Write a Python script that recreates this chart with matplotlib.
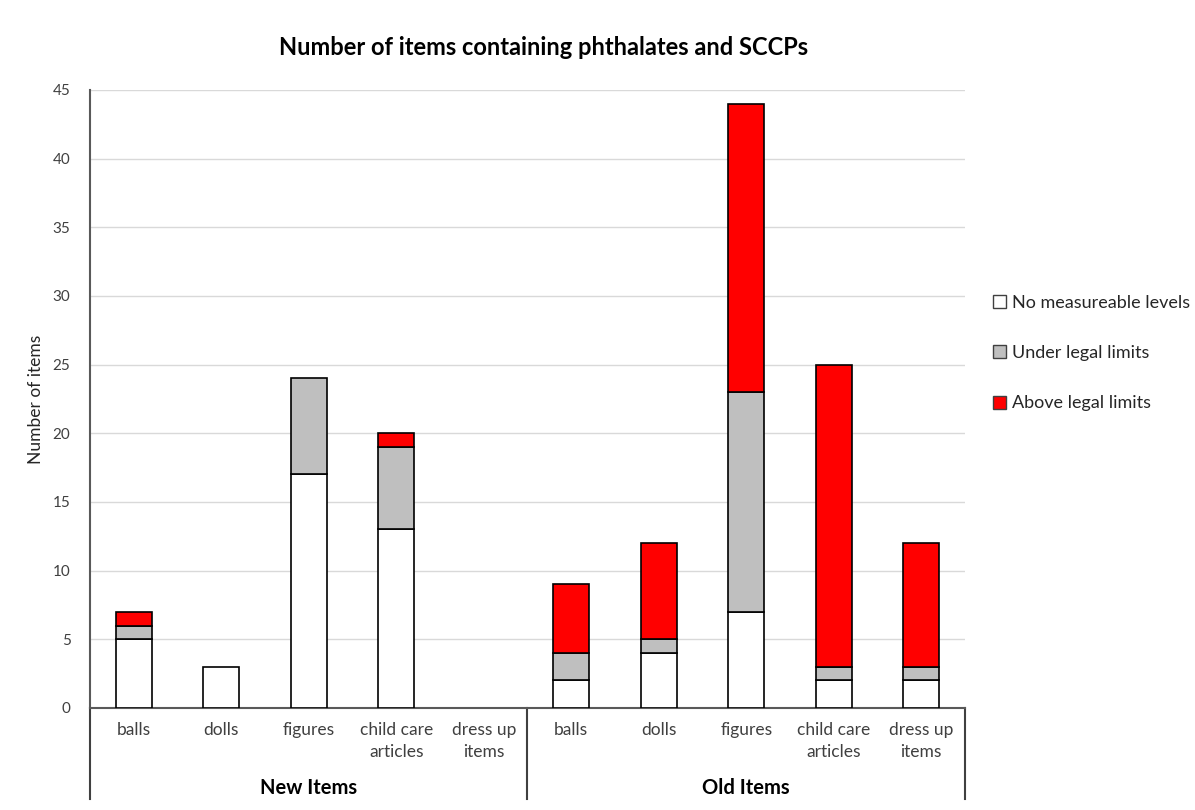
import numpy as np
import matplotlib
matplotlib.use("Agg")
import matplotlib.pyplot as plt
from matplotlib.patches import Patch

plt.rcParams['font.family'] = ['Lato', 'DejaVu Sans']

# item counts per category, New Items followed by Old Items
categories = ['balls', 'dolls', 'figures', 'child care\narticles', 'dress up\nitems']
groups = ['New Items', 'Old Items']
no_levels = [5, 3, 17, 13, 0, 2, 4, 7, 2, 2]
under_limits = [1, 0, 7, 6, 0, 2, 1, 16, 1, 1]
above_limits = [1, 0, 0, 1, 0, 5, 7, 21, 22, 9]

series_names = ['No measureable levels', 'Under legal limits', 'Above legal limits']
series_colors = ['white', '#bfbfbf', '#ff0000']

fig = plt.figure(figsize=(11.95, 8.10), dpi=100)
ax = fig.add_axes([0.0753, 0.126, 0.7322, 0.763])

x = np.arange(len(no_levels))
bottom = np.zeros(len(x))
for vals, color in zip([no_levels, under_limits, above_limits], series_colors):
    vals = np.array(vals, dtype=float)
    mask = vals > 0
    ax.bar(x[mask], vals[mask], bottom=bottom[mask], width=0.41,
           color=color, edgecolor='black', linewidth=1.2, zorder=3)
    bottom += vals

ax.set_xlim(-0.5, len(x) - 0.5)
ax.set_ylim(0, 45)
ax.set_yticks(np.arange(0, 46, 5))
ax.yaxis.grid(True, color='#d9d9d9', linewidth=1)
ax.set_axisbelow(True)
for side in ['top', 'right']:
    ax.spines[side].set_visible(False)
ax.spines['left'].set_color('#595959')
ax.spines['left'].set_linewidth(1.5)
ax.spines['bottom'].set_color('#595959')
ax.spines['bottom'].set_linewidth(1.5)
ax.tick_params(axis='y', length=0, labelsize=11, colors='#404040', pad=14)
ax.tick_params(axis='x', length=0, labelsize=12.5, colors='#404040', pad=10)
ax.set_xticks(x)
ax.set_xticklabels(categories * len(groups), linespacing=1.5, va='top')
ax.set_ylabel('Number of items', fontsize=12.5, color='#262626', labelpad=6)

# group separators and group labels below the axis
trans = ax.get_xaxis_transform()
n = len(categories)
for b in [-0.5, n - 0.5, 2 * n - 0.5]:
    ax.plot([b, b], [0, -0.148], transform=trans, color='#404040',
            linewidth=1.5, clip_on=False)
for i, g in enumerate(groups):
    ax.text(i * n + (n - 1) / 2, -0.13, g, transform=trans, ha='center',
            va='center', fontsize=14.5, fontweight='bold', color='black')

fig.suptitle('Number of items containing phthalates and SCCPs', x=0.455, y=0.955,
             fontsize=17, fontweight='bold', color='black')

handles = [Patch(facecolor=c, edgecolor='#404040', linewidth=1) for c in series_colors]
fig.legend(handles, series_names, loc='center left', bbox_to_anchor=(0.817, 0.564),
           frameon=False, fontsize=13, handlelength=0.75, handleheight=0.75,
           handletextpad=0.35, labelspacing=1.9, labelcolor='#262626')

fig.savefig('out.png', dpi=100, facecolor='white')
